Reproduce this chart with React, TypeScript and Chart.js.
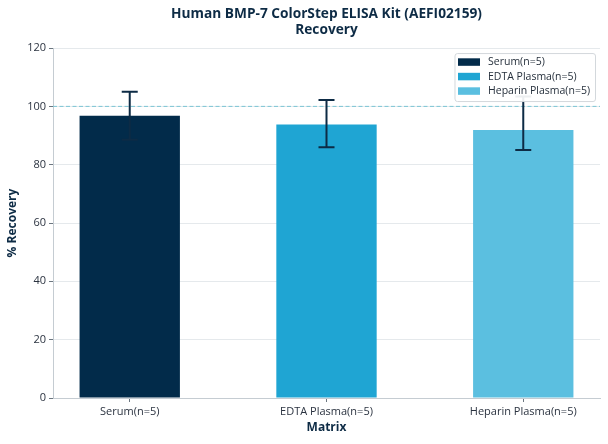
import React, { useEffect, useRef } from "react";
import { Chart, registerables } from "chart.js";

Chart.register(...registerables);

const categories = ["Serum(n=5)", "EDTA Plasma(n=5)", "Heparin Plasma(n=5)"];
const recovery = [96.8, 93.8, 91.9];
const errorUpper = [8.2, 8.4, 11.5];
const errorLower = [8.2, 7.8, 6.9];
const colors = ["#022b4a", "#1fa5d3", "#5bbfe0"];
const yTicks = [0, 20, 40, 60, 80, 100, 120];
const referenceLevel = 100;

const NAVY = "#0d2b45";
const FONT = "'Open Sans', 'Noto Sans', sans-serif";

const refLinePlugin = {
  id: "refLine",
  beforeDatasetsDraw(chart: any) {
    const { ctx, chartArea, scales } = chart;
    const y = scales.y.getPixelForValue(referenceLevel);
    ctx.save();
    ctx.strokeStyle = "#7cc4d4";
    ctx.lineWidth = 1;
    ctx.setLineDash([4, 2.5]);
    ctx.beginPath();
    ctx.moveTo(chartArea.left, y);
    ctx.lineTo(chartArea.right, y);
    ctx.stroke();
    ctx.restore();
  },
};

const errorBarPlugin = {
  id: "errorBars",
  afterDatasetsDraw(chart: any) {
    const { ctx, scales } = chart;
    const meta = chart.getDatasetMeta(0);
    ctx.save();
    ctx.strokeStyle = NAVY;
    ctx.lineWidth = 2;
    meta.data.forEach((bar: any, i: number) => {
      const x = bar.x;
      const top = scales.y.getPixelForValue(recovery[i] + errorUpper[i]);
      const bot = scales.y.getPixelForValue(recovery[i] - errorLower[i]);
      ctx.beginPath();
      ctx.moveTo(x, top);
      ctx.lineTo(x, bot);
      ctx.moveTo(x - 8, top);
      ctx.lineTo(x + 8, top);
      ctx.moveTo(x - 8, bot);
      ctx.lineTo(x + 8, bot);
      ctx.stroke();
    });
    ctx.restore();
  },
};

const legendPlugin = {
  id: "boxLegend",
  afterDraw(chart: any) {
    const { ctx, chartArea } = chart;
    ctx.save();
    ctx.font = `10.5px ${FONT}`;
    const textW = Math.max(...categories.map((c) => ctx.measureText(c).width));
    const swW = 22;
    const swH = 7.5;
    const rowH = 14.5;
    const padX = 3.5;
    const gap = 8;
    const w = padX + swW + gap + textW + 5;
    const h = rowH * categories.length + 4.5;
    const right = chartArea.right - 5;
    const left = right - w;
    const top = chartArea.top + 5;
    ctx.fillStyle = "rgba(255,255,255,0.92)";
    ctx.strokeStyle = "#d3d8dc";
    ctx.lineWidth = 1;
    ctx.beginPath();
    (ctx as any).roundRect(left + 0.5, top + 0.5, w, h, 2.5);
    ctx.fill();
    ctx.stroke();
    categories.forEach((c, i) => {
      const cy = top + 9 + i * rowH;
      ctx.fillStyle = colors[i];
      ctx.fillRect(left + padX, cy - swH / 2, swW, swH);
      ctx.fillStyle = "#26303c";
      ctx.textBaseline = "middle";
      ctx.textAlign = "left";
      ctx.fillText(c, left + padX + swW + gap, cy);
    });
    ctx.restore();
  },
};

export default function App() {
  const ref = useRef<HTMLCanvasElement>(null);
  useEffect(() => {
    if (!ref.current) return;
    const chart = new Chart(ref.current, {
      type: "bar",
      data: {
        datasets: [
          {
            label: "% Recovery",
            data: categories.map((c, i) => ({ x: i, y: recovery[i] })),
            backgroundColor: colors,
            borderWidth: 0,
            barPercentage: 0.51,
            categoryPercentage: 1,
          },
        ],
      },
      options: {
        responsive: true,
        maintainAspectRatio: false,
        animation: false,
        layout: { padding: { left: 0, right: 8, top: 0, bottom: 0 } },
        plugins: {
          legend: { display: false },
          tooltip: { enabled: false },
          title: {
            display: true,
            fullSize: false,
            text: ["Human BMP-7 ColorStep ELISA Kit (AEFI02159)", "Recovery"],
            color: NAVY,
            font: { family: FONT, size: 13.7, weight: "bold", lineHeight: 1.17 },
            padding: { top: 6, bottom: 10 },
          },
        },
        scales: {
          x: {
            type: "linear",
            min: -0.39,
            max: 2.39,
            offset: false,
            afterBuildTicks: (scale: any) => {
              scale.ticks = categories.map((_, i) => ({ value: i }));
            },
            afterFit: (scale: any) => {
              scale.height = 46;
            },
            ticks: {
              autoSkip: false,
              maxRotation: 0,
              padding: 3,
              color: "#2b3340",
              font: { family: FONT, size: 11 },
              callback: (v: any) => categories[Math.round(Number(v))] ?? "",
            },
            grid: {
              offset: false,
              drawOnChartArea: false,
              drawTicks: true,
              tickLength: 4,
              color: "#6b7680",
            },
            border: { display: true, color: "#c5ccd2", width: 1 },
            title: {
              display: true,
              text: "Matrix",
              color: NAVY,
              font: { family: FONT, size: 12, weight: "bold", lineHeight: 1.2 },
              padding: { top: 0, bottom: 9 },
            },
          },
          y: {
            min: 0,
            max: 120,
            afterBuildTicks: (scale: any) => {
              scale.ticks = yTicks.map((v) => ({ value: v }));
            },
            afterFit: (scale: any) => {
              scale.width = 53;
            },
            ticks: {
              padding: 3,
              color: "#2b3340",
              font: { family: FONT, size: 11 },
            },
            grid: {
              drawOnChartArea: true,
              drawTicks: true,
              tickLength: 4,
              color: "#e5e9ec",
              tickColor: "#6b7680",
            },
            border: { display: true, color: "#c5ccd2", width: 1 },
            title: {
              display: true,
              text: "% Recovery",
              color: NAVY,
              font: { family: FONT, size: 12, weight: "bold", lineHeight: 1.2 },
              padding: { top: 5, bottom: 0 },
            },
          },
        },
      },
      plugins: [refLinePlugin, errorBarPlugin, legendPlugin],
    } as any);
    return () => chart.destroy();
  }, []);
  return (
    <div style={{ position: "fixed", left: 0, top: 0, width: 608, height: 444, background: "#fff" }}>
      <canvas ref={ref} />
    </div>
  );
}
